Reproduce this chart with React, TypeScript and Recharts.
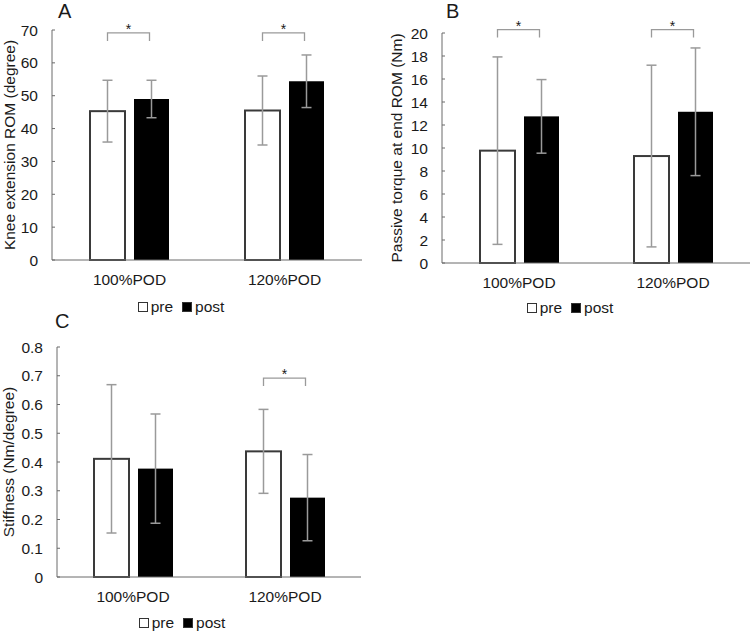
import { BarChart, Bar, XAxis, YAxis, ErrorBar } from 'recharts'

const categories = ['100%POD', '120%POD']
const seriesNames = ['pre', 'post']

// A: knee extension ROM
const romPre = [45.3, 45.5]
const romPreSd = [9.4, 10.5]
const romPost = [49.0, 54.4]
const romPostSd = [5.7, 8.0]
const romSig = [69.1, 69.1]
const romTicks = [0, 10, 20, 30, 40, 50, 60, 70]

// B: passive torque
const torquePre = [9.77, 9.3]
const torquePreSd = [8.15, 7.9]
const torquePost = [12.75, 13.15]
const torquePostSd = [3.2, 5.55]
const torqueSig = [20.3, 20.3]
const torqueTicks = [0, 2, 4, 6, 8, 10, 12, 14, 16, 18, 20]

// C: stiffness
const stiffPre = [0.411, 0.437]
const stiffPreSd = [0.258, 0.146]
const stiffPost = [0.377, 0.276]
const stiffPostSd = [0.19, 0.15]
const stiffSig = [null, 0.692]
const stiffTicks = [0, 0.1, 0.2, 0.3, 0.4, 0.5, 0.6, 0.7, 0.8]

const FONT = '"Liberation Sans", Arial, sans-serif'
const TEXT = '#1a1a1a'
const AXIS = '#6a6a6a'
const ERR = '#9a9a9a'
const FS = 15.5
const GAP = 9

function buildData(pre: number[], preSd: number[], post: number[], postSd: number[], sig: (number | null)[]) {
  return categories.map((name, i) => ({
    name,
    pre: pre[i],
    preSd: preSd[i],
    post: post[i],
    postSd: postSd[i],
    sig: sig[i],
  }))
}

function YTick(props: any) {
  const { x, y, payload } = props
  return (
    <g>
      <text x={x} y={y} textAnchor="end" dominantBaseline="central" fontSize={FS} fill={TEXT}>
        {payload.value}
      </text>
      <line x1={x + 14} x2={x + 17} y1={y} y2={y} stroke={AXIS} />
    </g>
  )
}

function PreBar(props: any) {
  const { x, y, width, height } = props
  return <rect x={x} y={y} width={width} height={height} fill="#fff" stroke="#3a3a3a" strokeWidth={2} />
}

function PostBar(props: any) {
  const { x, y, width, height, payload } = props
  const v = payload.post
  const sig = payload.sig
  let bracket = null
  if (sig != null && v > 0) {
    const by = y + height - (sig / v) * height
    const cx = x - GAP / 2
    const x1 = cx - 22
    const x2 = cx + 20
    bracket = (
      <g>
        <path d={`M${x1},${by + 8}V${by}H${x2}V${by + 8}`} fill="none" stroke={ERR} strokeWidth={1.3} />
        <text x={cx - 1} y={by + 1} textAnchor="middle" fontSize={14} fill={TEXT}>
          *
        </text>
      </g>
    )
  }
  return (
    <g>
      <rect x={x} y={y} width={width} height={height} fill="#000" />
      {bracket}
    </g>
  )
}

function LegendBox({ cx, cy }: { cx: number; cy: number }) {
  return (
    <div
      style={{
        position: 'absolute',
        left: cx - 100,
        top: cy - 10,
        width: 200,
        height: 20,
        display: 'flex',
        alignItems: 'center',
        justifyContent: 'center',
        fontSize: FS,
        color: TEXT,
      }}
    >
      {seriesNames.map((s, i) => (
        <span key={s} style={{ display: 'flex', alignItems: 'center', marginLeft: i ? 9 : 0 }}>
          <span
            style={{
              display: 'inline-block',
              width: 8,
              height: 8,
              border: '1px solid #333',
              background: i ? '#000' : '#fff',
              marginRight: 3,
            }}
          />
          {s}
        </span>
      ))}
    </div>
  )
}

interface PanelProps {
  left: number
  top: number
  width: number
  height: number
  marginTop: number
  marginRight: number
  yWidth: number
  labelOffset: number
  yLabel: string
  letter: string
  letterX: number
  legendX: number
  legendY: number
  data: any[]
  domain: [number, number]
  ticks: number[]
}

function Panel(p: PanelProps) {
  return (
    <div style={{ position: 'absolute', left: p.left, top: p.top, width: p.width, height: p.height + 30 }}>
      <div style={{ position: 'absolute', left: p.letterX, top: 1, fontSize: 20, lineHeight: 1, color: TEXT }}>
        {p.letter}
      </div>
      <BarChart
        width={p.width}
        height={p.height}
        data={p.data}
        margin={{ top: p.marginTop, right: p.marginRight, left: 0, bottom: 10 }}
        barGap={GAP}
        barSize={35}
      >
        <XAxis
          dataKey="name"
          height={30}
          interval={0}
          axisLine={{ stroke: AXIS }}
          tickLine={false}
          tickSize={0}
          tickMargin={14}
          tick={{ fontSize: FS, fill: TEXT }}
        />
        <YAxis
          width={p.yWidth}
          domain={p.domain}
          ticks={p.ticks}
          interval={0}
          axisLine={{ stroke: AXIS }}
          tickLine={false}
          tickSize={0}
          tickMargin={14}
          tick={<YTick />}
          label={{
            value: p.yLabel,
            angle: -90,
            position: 'insideLeft',
            offset: p.labelOffset,
            style: { textAnchor: 'middle', fontSize: FS, fill: TEXT },
          }}
        />
        <Bar dataKey="pre" isAnimationActive={false} shape={<PreBar />}>
          <ErrorBar dataKey="preSd" width={5} stroke={ERR} strokeWidth={1.5} isAnimationActive={false} />
        </Bar>
        <Bar dataKey="post" isAnimationActive={false} shape={<PostBar />}>
          <ErrorBar dataKey="postSd" width={5} stroke={ERR} strokeWidth={1.5} isAnimationActive={false} />
        </Bar>
      </BarChart>
      <LegendBox cx={p.legendX} cy={p.legendY} />
    </div>
  )
}

export default function App() {
  return (
    <div
      style={{
        position: 'absolute',
        left: 0,
        top: 0,
        width: 751,
        height: 633,
        background: '#fff',
        fontFamily: FONT,
        overflow: 'hidden',
      }}
    >
      <Panel
        left={0}
        top={0}
        width={370}
        height={300}
        marginTop={30}
        marginRight={8}
        yWidth={52}
        labelOffset={9}
        yLabel="Knee extension ROM (degree)"
        letter="A"
        letterX={58}
        legendX={181}
        legendY={307}
        data={buildData(romPre, romPreSd, romPost, romPostSd, romSig)}
        domain={[0, 70]}
        ticks={romTicks}
      />
      <Panel
        left={370}
        top={0}
        width={381}
        height={303}
        marginTop={33}
        marginRight={1}
        yWidth={72}
        labelOffset={26.5}
        yLabel="Passive torque at end ROM (Nm)"
        letter="B"
        letterX={76}
        legendX={200}
        legendY={308}
        data={buildData(torquePre, torquePreSd, torquePost, torquePostSd, torqueSig)}
        domain={[0, 20]}
        ticks={torqueTicks}
      />
      <Panel
        left={0}
        top={310}
        width={370}
        height={307}
        marginTop={37}
        marginRight={9}
        yWidth={57}
        labelOffset={8.5}
        yLabel="Stiffness (Nm/degree)"
        letter="C"
        letterX={55}
        legendX={182}
        legendY={313}
        data={buildData(stiffPre, stiffPreSd, stiffPost, stiffPostSd, stiffSig)}
        domain={[0, 0.8]}
        ticks={stiffTicks}
      />
    </div>
  )
}
